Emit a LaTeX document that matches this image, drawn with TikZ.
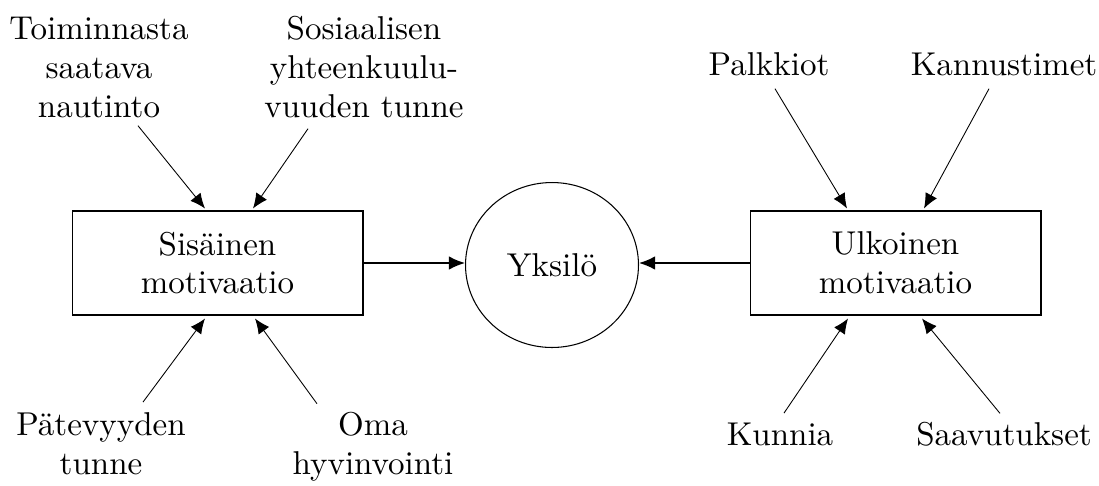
\documentclass[tikz,border=0pt]{standalone}
\usepackage{fontspec}
\setmainfont{lmroman10-regular.otf}
\usetikzlibrary{calc, arrows.meta, shapes.geometric}
\definecolor{color_text}{HTML}{000000}
\tikzset{
  motive_box/.style={draw=color_text, line width=0.6pt, minimum width=5.82cm, minimum height=2.08cm, align=center, font=\fontsize{18.8}{22}\selectfont, inner sep=0pt},
  person_circle/.style={ellipse, draw=color_text, line width=0.6pt, minimum width=3.46cm, minimum height=3.3cm, inner sep=0pt, font=\fontsize{18.8}{22}\selectfont},
  figure_label/.style={font=\fontsize{18.8}{22}\selectfont, text=color_text, align=center, inner sep=0pt},
  diagram_arrow/.style={-{Latex[length=0.3cm, width=0.26cm]}, draw=color_text, line width=0.5pt},
  main_arrow/.style={-{Latex[length=0.32cm, width=0.27cm]}, draw=color_text, line width=0.9pt},
}

\begin{document}
\begin{tikzpicture}[x=0.02cm, y=-0.02cm]
    \useasboundingbox (0,0) rectangle (1099,485);
    \node[motive_box] (sisainen) at (217.5,263) {Sisäinen\\motivaatio};
    \node[person_circle] (yksilo) at (552,265) {Yksilö};
    \node[motive_box] (ulkoinen) at (895.5,263) {Ulkoinen\\motivaatio};
    \draw[main_arrow] (sisainen.east) -- (sisainen.east -| yksilo.west);
    \draw[main_arrow] (ulkoinen.west) -- (ulkoinen.west -| yksilo.east);
    % intrinsic factors
    \node[figure_label, anchor=base] (nautinto) at (99,117) {Toiminnasta\\saatava\\nautinto};
    \node[figure_label, anchor=base] (yhteys) at (364,117) {Sosiaalisen\\yhteenkuulu-\\vuuden tunne};
    \node[figure_label, anchor=base] (patevyys) at (101,474) {Pätevyyden\\tunne};
    \node[figure_label, anchor=base] (hyvinvointi) at (373,474) {Oma\\hyvinvointi};
    \draw[diagram_arrow] ($(nautinto.south)+(39,8)$) -- ($(sisainen.north)+(-12.5,-2)$);
    \draw[diagram_arrow] ($(yhteys.south)+(-56,11)$) -- ($(sisainen.north)+(35.5,-2)$);
    \draw[diagram_arrow] ($(patevyys.north)+(42,-10)$) -- ($(sisainen.south)+(-12.5,3)$);
    \draw[diagram_arrow] ($(hyvinvointi.north)+(-56,-8)$) -- ($(sisainen.south)+(37.5,3)$);
    % extrinsic factors
    \node[figure_label, anchor=base] (palkkiot) at (769,75) {Palkkiot};
    \node[figure_label, anchor=base] (kannustimet) at (1004,75) {Kannustimet};
    \node[figure_label, anchor=base] (kunnia) at (780,445) {Kunnia};
    \node[figure_label, anchor=base] (saavutukset) at (1004,445) {Saavutukset};
    \draw[diagram_arrow] ($(palkkiot.south)+(6,13)$) -- ($(ulkoinen.north)+(-48.5,-2)$);
    \draw[diagram_arrow] ($(kannustimet.south)+(-15,13)$) -- ($(ulkoinen.north)+(28.5,-2)$);
    \draw[diagram_arrow] ($(kunnia.north)+(4,-9)$) -- ($(ulkoinen.south)+(-47.5,3)$);
    \draw[diagram_arrow] ($(saavutukset.north)+(-4,-8)$) -- ($(ulkoinen.south)+(26.5,3)$);
\end{tikzpicture}
\end{document}
